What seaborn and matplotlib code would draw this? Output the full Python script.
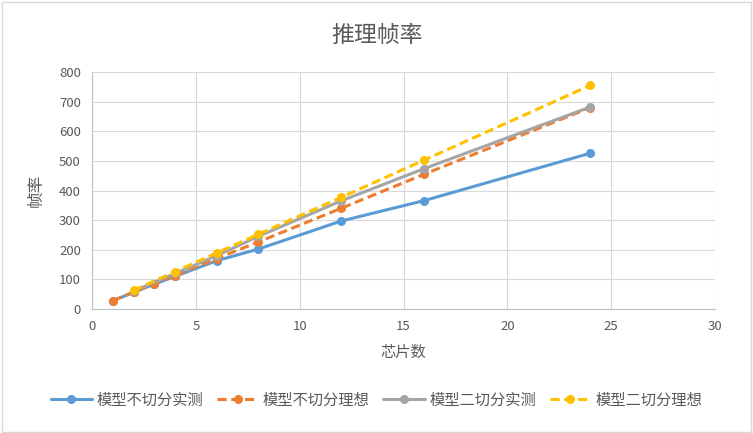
import numpy as np
import pandas as pd
import seaborn as sns
import matplotlib.pyplot as plt
from matplotlib.patches import Rectangle

sns.set_theme(style="whitegrid")
plt.rcParams['font.family'] = ['Noto Sans CJK SC', 'DejaVu Sans']

chips_1 = [1, 2, 3, 4, 6, 8, 12, 16, 24]
chips_2 = [2, 4, 6, 8, 12, 16, 24]
nosplit_real = [28, 56, 84, 110, 163, 202, 297, 366, 526]
nosplit_ideal = [28, 57, 85, 113, 170, 226, 340, 455, 680]
split2_real = [60, 120, 180, 245, 365, 474, 682]
split2_ideal = [63, 126, 189, 252, 377, 503, 755]

names = ["模型不切分实测", "模型不切分理想", "模型二切分实测", "模型二切分理想"]
colors = ["#5B9BD5", "#ED7D31", "#A5A5A5", "#FFC000"]
dashed = [False, True, False, True]

frames = []
for name, xs, ys in zip(names, [chips_1, chips_1, chips_2, chips_2],
                        [nosplit_real, nosplit_ideal, split2_real, split2_ideal]):
    frames.append(pd.DataFrame({"芯片数": xs, "帧率": ys, "series": name}))
df = pd.concat(frames, ignore_index=True)

fig = plt.figure(figsize=(7.53, 4.33), dpi=100)
ax = fig.add_axes([92 / 753, 1 - 309 / 433, 623 / 753, 237 / 433])

for name, c, d in zip(names, colors, dashed):
    sns.lineplot(data=df[df["series"] == name], x="芯片数", y="帧率", ax=ax,
                 color=c, linewidth=2.2, marker="o", markersize=6.5,
                 markeredgewidth=0, linestyle=(0, (3, 1.5)) if d else "-",
                 label=name)

ax.set_xlim(0, 30)
ax.set_ylim(0, 800)
ax.set_xticks(range(0, 31, 5))
ax.set_yticks(range(0, 801, 100))
ax.grid(True, color="#D9D9D9", linewidth=0.8)
for s in ["top", "right"]:
    ax.spines[s].set_visible(False)
for s in ["left", "bottom"]:
    ax.spines[s].set_color("#BFBFBF")
    ax.spines[s].set_linewidth(0.8)
ax.tick_params(colors="#595959", labelsize=9.5, length=0, pad=8)
ax.set_xlabel("芯片数", color="#595959", fontsize=11, labelpad=8)
ax.set_ylabel("帧率", color="#595959", fontsize=12, labelpad=10)
fig.text(0.5, 1 - 35 / 433, "推理帧率", color="#595959", fontsize=16.5,
         ha="center", va="center")

handles, labels = ax.get_legend_handles_labels()
ax.get_legend().remove()
fig.legend(handles, labels, loc="center", bbox_to_anchor=(0.5, 1 - 400 / 433),
           ncol=4, frameon=False, fontsize=11, handlelength=2.7,
           columnspacing=0.9, handletextpad=0.3, labelcolor="#595959")

fig.patches.append(Rectangle((0.002, 0.003), 0.995, 0.993, transform=fig.transFigure,
                             fill=False, edgecolor="#D9D9D9", linewidth=1))

fig.savefig("out.png", dpi=100)
